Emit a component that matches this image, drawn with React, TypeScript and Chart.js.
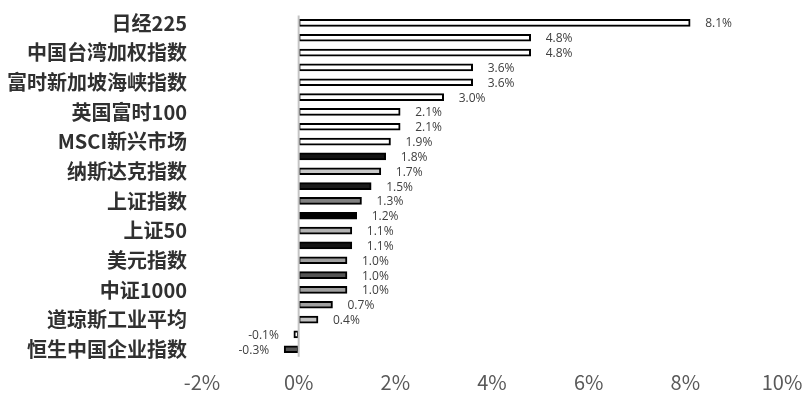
import React, { useEffect, useRef } from 'react';
import { Chart, registerables } from 'chart.js';

Chart.register(...registerables);

const categories = [
  '日经225', '', '中国台湾加权指数', '', '富时新加坡海峡指数', '', '英国富时100', '',
  'MSCI新兴市场', '', '纳斯达克指数', '', '上证指数', '', '上证50', '', '美元指数', '',
  '中证1000', '', '道琼斯工业平均', '', '恒生中国企业指数',
];

const values = [
  8.1, 4.8, 4.8, 3.6, 3.6, 3.0, 2.1, 2.1, 1.9, 1.8, 1.7, 1.5, 1.3, 1.2, 1.1, 1.1, 1.0, 1.0, 1.0,
  0.7, 0.4, -0.1, -0.3,
];

const barColors = [
  '#ffffff', '#ffffff', '#ffffff', '#ffffff', '#ffffff', '#ffffff', '#ffffff', '#ffffff', '#ffffff',
  '#141414', '#c8c8c8', '#1c1c1c', '#808080', '#000000', '#b4b4b4', '#141414', '#a0a0a0', '#555555',
  '#a0a0a0', '#a0a0a0', '#c4c4c4', '#ffffff', '#555555',
];

const xMin = -2;
const xMax = 10;
const xStep = 2;

const overlayPlugin = {
  id: 'overlay',
  afterDatasetsDraw(chart: any) {
    const { ctx, chartArea, scales } = chart;
    const x0 = scales.x.getPixelForValue(0);
    ctx.save();
    ctx.strokeStyle = '#c4c4c4';
    ctx.lineWidth = 2;
    ctx.beginPath();
    ctx.moveTo(x0, chartArea.top);
    ctx.lineTo(x0, chartArea.bottom);
    ctx.stroke();

    const meta = chart.getDatasetMeta(0);
    ctx.font = '12px "Open Sans", sans-serif';
    ctx.fillStyle = '#404040';
    ctx.textBaseline = 'middle';
    meta.data.forEach((bar: any, i: number) => {
      const v = values[i];
      const txt = v.toFixed(1) + '%';
      if (v >= 0) {
        ctx.textAlign = 'left';
        ctx.fillText(txt, bar.x + 15, bar.y + 1);
      } else {
        ctx.textAlign = 'right';
        ctx.fillText(txt, bar.x - 15, bar.y + 1);
      }
    });
    ctx.restore();
  },
};

export default function App() {
  const ref = useRef<HTMLCanvasElement | null>(null);

  useEffect(() => {
    if (!ref.current) return;
    const chart = new Chart(ref.current, {
      type: 'bar',
      data: {
        labels: categories,
        datasets: [
          {
            data: values,
            backgroundColor: barColors,
            borderColor: '#000000',
            borderWidth: 2,
            borderSkipped: false,
            barThickness: 7,
          },
        ],
      },
      options: {
        indexAxis: 'y',
        animation: false,
        responsive: true,
        maintainAspectRatio: false,
        layout: { padding: { top: 15.5, right: 30, left: 0, bottom: 0 } },
        plugins: {
          legend: { display: false },
          tooltip: { enabled: false },
        },
        scales: {
          x: {
            min: xMin,
            max: xMax,
            grid: { display: false, drawTicks: false },
            border: { display: false },
            ticks: {
              stepSize: xStep,
              padding: 14,
              color: '#595959',
              font: { size: 20, family: '"Noto Sans CJK SC", "Noto Sans", sans-serif' },
              callback: (v: any) => v + '%',
            },
            afterFit: (s: any) => {
              s.height = 42.3;
              s.paddingLeft = 0;
              s.paddingRight = 0;
            },
          },
          y: {
            grid: { display: false, drawTicks: false },
            border: { display: false },
            ticks: {
              autoSkip: false,
              padding: 15,
              color: '#303030',
              font: { size: 20, weight: 'bold', family: '"Noto Sans CJK SC", sans-serif' },
            },
            afterFit: (s: any) => {
              s.width = 202;
              s.paddingTop = 0;
              s.paddingBottom = 0;
            },
          },
        },
      },
      plugins: [overlayPlugin],
    });
    return () => chart.destroy();
  }, []);

  return (
    <div style={{ position: 'fixed', left: 0, top: 0, width: 812, height: 399, background: '#fff' }}>
      <canvas ref={ref} />
    </div>
  );
}
